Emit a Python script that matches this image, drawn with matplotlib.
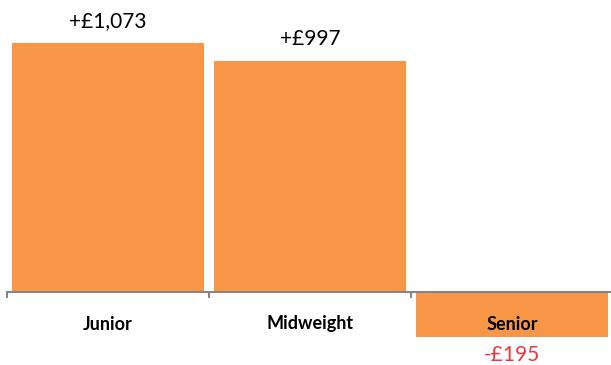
import matplotlib.pyplot as plt

categories = ["Junior", "Midweight", "Senior"]
values = [1073, 997, -195]
labels = ["+£1,073", "+£997", "-£195"]

plt.rcParams['font.family'] = ['Lato', 'DejaVu Sans']

fig = plt.figure(figsize=(6.11, 3.65), dpi=100)
ax = fig.add_axes([7/611, 0, 606/611, 1])

x = range(len(categories))
bars = ax.bar(x, values, width=0.95, color="#F79646", zorder=1)

# y scale: 0 at 292px from top, 1073 at 43px
ppu = 249 / 1073
ax.set_ylim(-(365 - 292) / ppu, 292 / ppu)
ax.set_xlim(-0.5, 2.5)

for sp in ["top", "right", "left"]:
    ax.spines[sp].set_visible(False)
ax.spines["bottom"].set_position(("data", 0))
ax.spines["bottom"].set_color("#868686")
ax.spines["bottom"].set_linewidth(1.5)
ax.spines["bottom"].set_zorder(3)
ax.set_yticks([])
ax.set_xticks([-0.5, 0.5, 1.5, 2.5])
ax.set_xticklabels([])
ax.tick_params(axis="x", length=4.5, width=1.5, color="#868686", direction="out")

for i, (v, lab) in enumerate(zip(values, labels)):
    ax.annotate(categories[i], (i, 0), xytext=(0, -32), textcoords="offset pixels",
                ha="center", va="center", fontsize=13, fontweight="bold", color="black", zorder=4)
    if v >= 0:
        ax.annotate(lab, (i, v), xytext=(0, 22), textcoords="offset pixels",
                    ha="center", va="center", fontsize=15, color="black")
    else:
        ax.annotate(lab, (i, v), xytext=(0, -18), textcoords="offset pixels",
                    ha="center", va="center", fontsize=15, color="#EE3540")

fig.savefig("out.png", dpi=100)
